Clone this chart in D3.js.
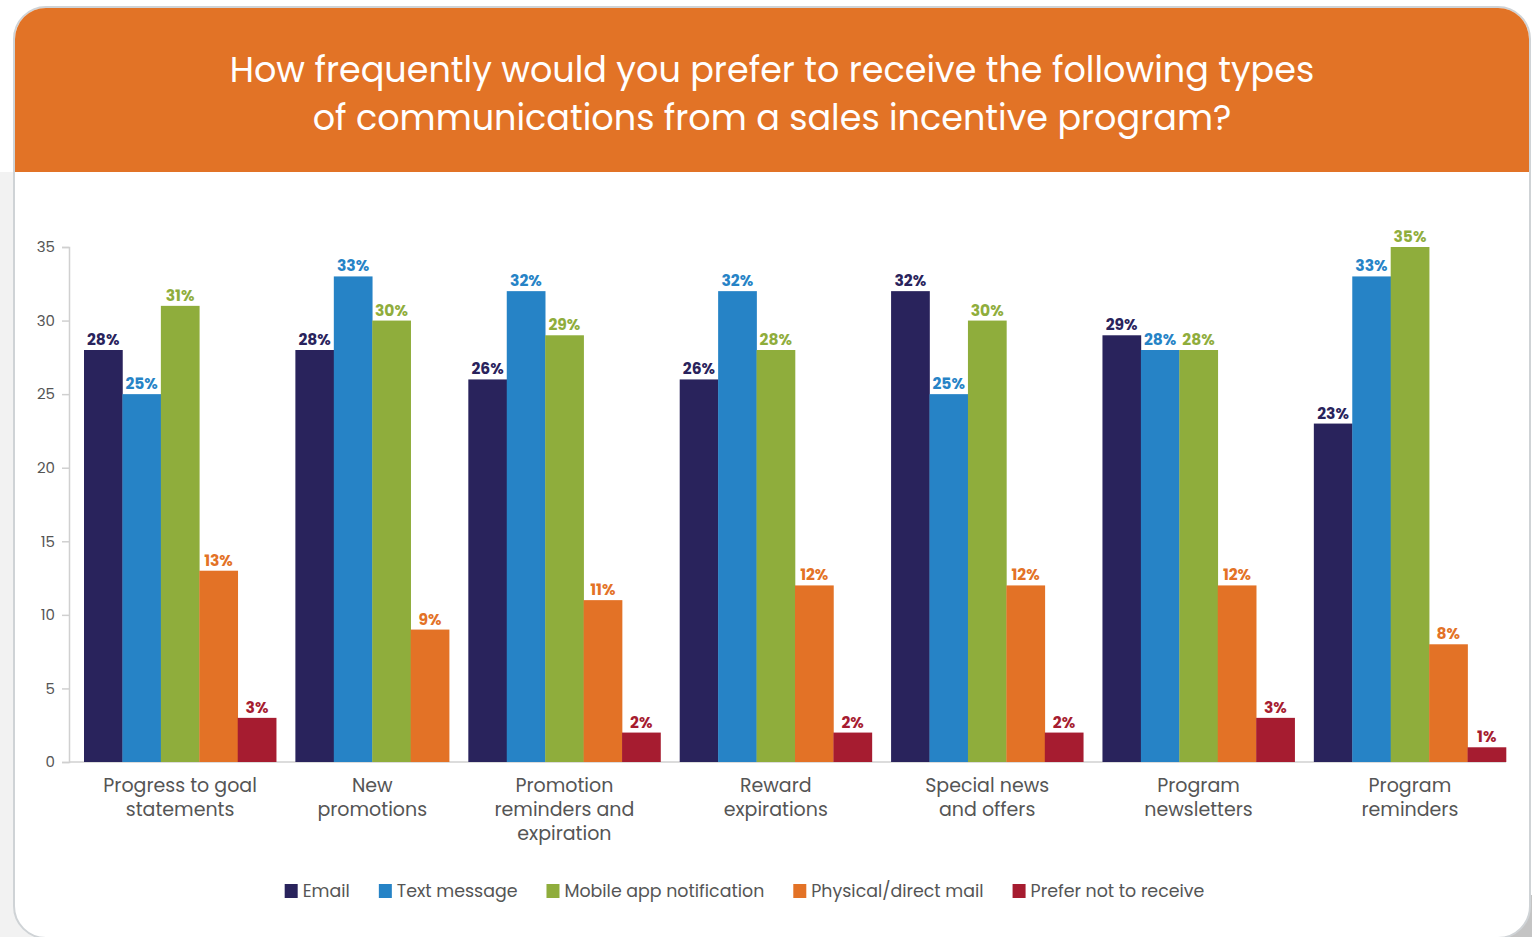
<!DOCTYPE html>
<html><head><meta charset="utf-8">
<script src="https://cdn.jsdelivr.net/npm/d3@7"></script>
<style>
html,body{margin:0;padding:0;background:#fff;}
svg{display:block;font-family:Poppins,Inter,"Noto Sans",sans-serif;}
</style></head>
<body>
<svg id="c" width="1532" height="937"></svg>
<script>
const titleLines = ["How frequently would you prefer to receive the following types","of communications from a sales incentive program?"];
const categories = ["Progress to goal statements","New promotions","Promotion reminders and expiration","Reward expirations","Special news and offers","Program newsletters","Program reminders"];
const categoryLines = [["Progress to goal","statements"],["New","promotions"],["Promotion","reminders and","expiration"],["Reward","expirations"],["Special news","and offers"],["Program","newsletters"],["Program","reminders"]];
const seriesNames = ["Email","Text message","Mobile app notification","Physical/direct mail","Prefer not to receive"];
const seriesColors = ["#29235C","#2683C6","#8FAD3C","#E37226","#A61C30"];
const email    = [28,28,26,26,32,29,23];
const text     = [25,33,32,32,25,28,33];
const mobile   = [31,30,29,28,30,28,35];
const physical = [13,9,11,12,12,12,8];
const preferNot= [3,null,2,2,2,3,1];
const yTicks = [0,5,10,15,20,25,30,35];
const seriesValues = [email,text,mobile,physical,preferNot];

const svg = d3.select("#c");
// page background & card
svg.append("rect").attr("x",0).attr("y",172).attr("width",45).attr("height",765).attr("fill","#f2f2f2");
svg.append("rect").attr("x",1495).attr("y",895).attr("width",37).attr("height",42).attr("fill","#c4c4c4");
svg.append("rect").attr("x",14).attr("y",7).attr("width",1516).attr("height",931).attr("rx",32)
  .attr("fill","#fff").attr("stroke","#cfd3d6").attr("stroke-width",2);
svg.append("clipPath").attr("id","cardclip").append("rect")
  .attr("x",15).attr("y",8).attr("width",1514).attr("height",929).attr("rx",31);
svg.append("rect").attr("clip-path","url(#cardclip)").attr("x",0).attr("y",0).attr("width",1532).attr("height",172).attr("fill","#E27326");

const title = svg.append("text").attr("fill","#fff").attr("font-size",35).attr("text-anchor","middle");
titleLines.forEach((t,i)=>title.append("tspan").attr("x",772).attr("y",82+i*48).text(t));

// scales
const y = d3.scaleLinear().domain([0,35]).range([762,247]);
// slot layout (bar = 1 unit, group gap = 0.5 unit)
const bars = [];
const groupInfo = [];
let u = 0;
categories.forEach((c,ci)=>{
  if(ci>0) u += 0.5;
  const start = u;
  seriesValues.forEach((vals,si)=>{
    if(vals[ci]!==null && vals[ci]!==undefined){
      bars.push({ci,si,v:vals[ci],u}); u += 1;
    }
  });
  groupInfo.push({ci,center:(start+u)/2});
});
const x = d3.scaleLinear().domain([0,u]).range([84,1506]);
const bw = x(1)-x(0);

// axes
const gy = svg.append("g").attr("transform","translate(69,0)")
  .call(d3.axisLeft(y).tickValues(yTicks).tickSize(7).tickPadding(7));
gy.select(".domain").attr("stroke","#d0d0d0").attr("stroke-width",1.5);
gy.selectAll(".tick line").attr("stroke","#d0d0d0").attr("stroke-width",1.5);
gy.selectAll(".tick text").attr("fill","#555").attr("font-size",15).attr("font-family","Poppins,Inter,sans-serif");

svg.append("line").attr("x1",69).attr("x2",1506).attr("y1",y(0)).attr("y2",y(0))
  .attr("stroke","#d0d0d0").attr("stroke-width",1.5);

// bars
svg.append("g").selectAll("rect").data(bars).join("rect")
  .attr("x",d=>x(d.u)).attr("width",bw+0.3)
  .attr("y",d=>y(d.v)).attr("height",d=>y(0)-y(d.v))
  .attr("fill",d=>seriesColors[d.si]);
svg.append("g").selectAll("text").data(bars).join("text")
  .attr("x",d=>x(d.u+0.5)).attr("y",d=>y(d.v)-5)
  .attr("text-anchor","middle").attr("font-size",15.5).attr("font-weight",700)
  .attr("fill",d=>seriesColors[d.si]).text(d=>d.v+"%");

// x labels
const xl = svg.append("g").selectAll("text").data(groupInfo).join("text")
  .attr("text-anchor","middle").attr("font-size",19).attr("fill","#555");
xl.each(function(d){
  const t=d3.select(this);
  categoryLines[d.ci].forEach((line,i)=>t.append("tspan").attr("x",x(d.center)).attr("y",792+i*24).text(line));
});

// legend
const lg = svg.append("g");
let lx = 0;
seriesNames.forEach((n,i)=>{
  const g = lg.append("g").attr("transform",`translate(${lx},0)`);
  g.append("rect").attr("x",0).attr("y",-13).attr("width",13).attr("height",14).attr("fill",seriesColors[i]);
  const tx = g.append("text").attr("x",18).attr("y",0).attr("font-size",17.4).attr("fill","#555").text(n);
  const w = tx.node().getComputedTextLength();
  lx += 18 + w + 29;
});
const total = lx - 29;
lg.attr("transform",`translate(${744.5-total/2},897)`);
</script>
</body></html>
